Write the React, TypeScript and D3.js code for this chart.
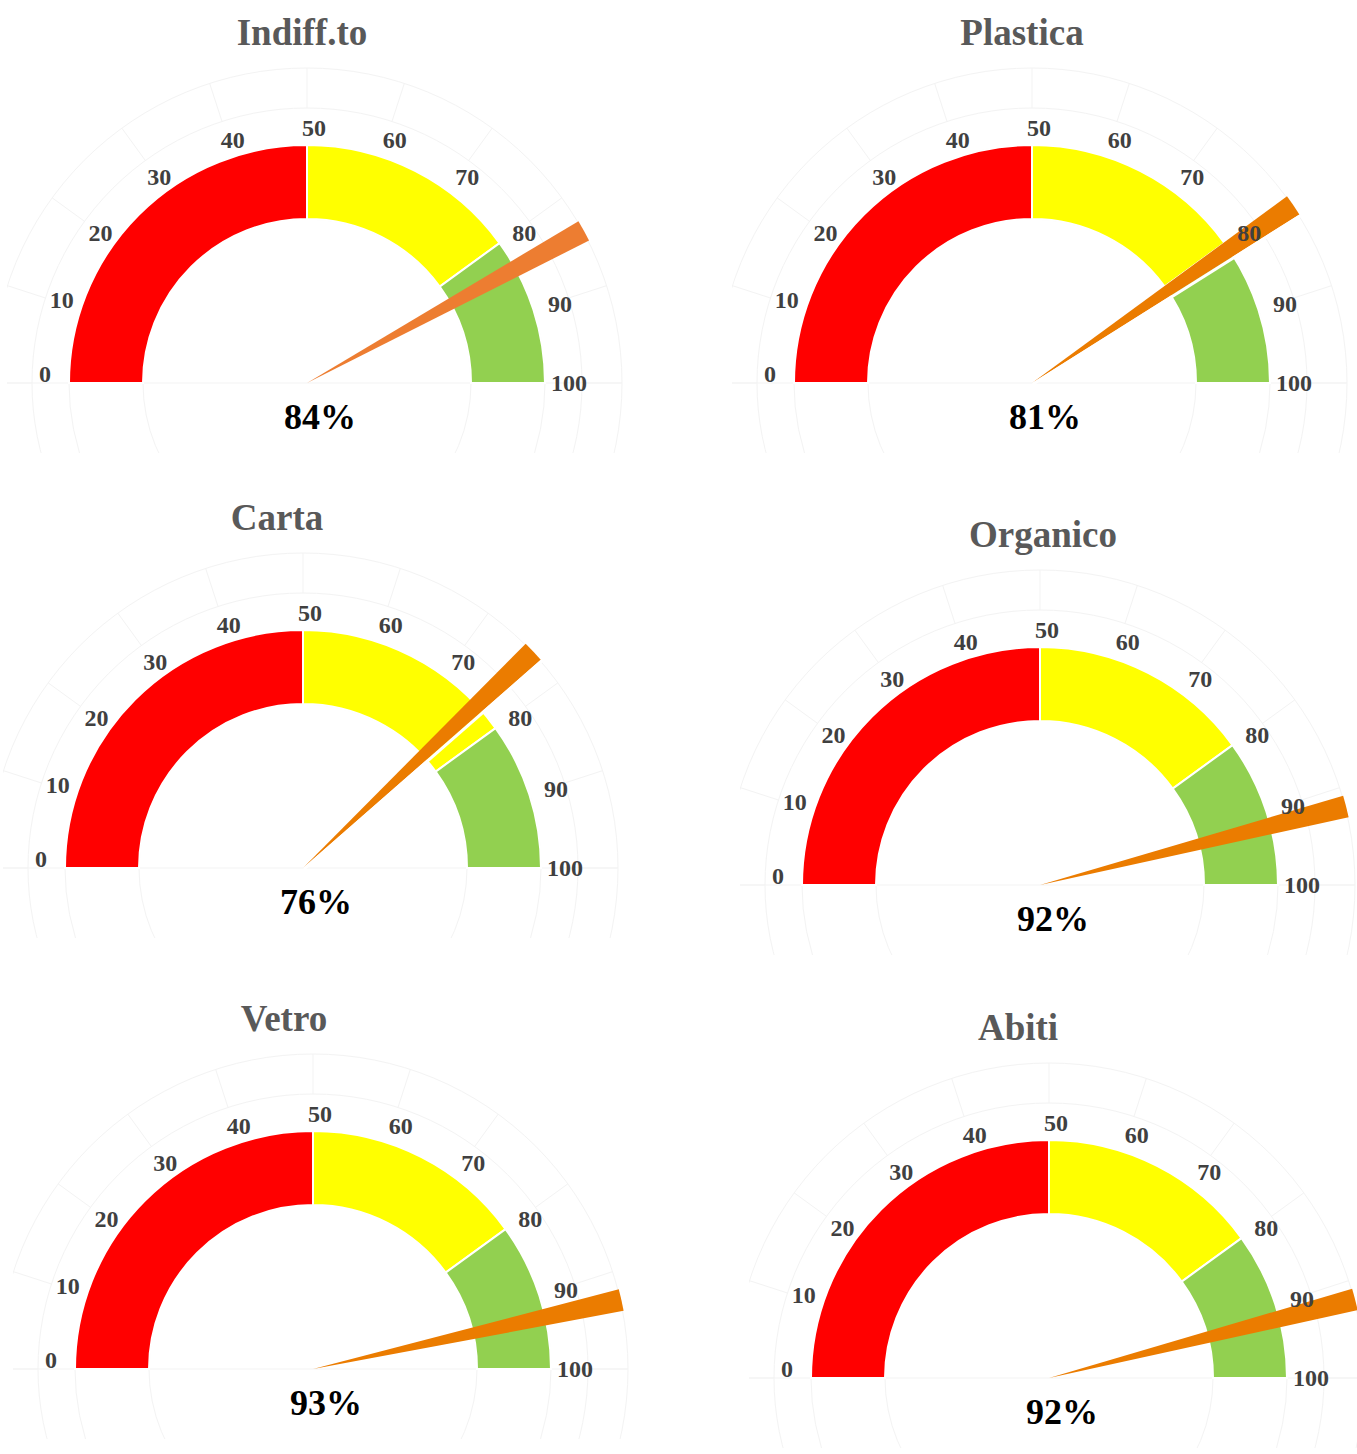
import React from "react";
import * as d3 from "d3";

// Gauge data
const titles = ["Indiff.to", "Plastica", "Carta", "Organico", "Vetro", "Abiti"];
const values = [84, 81, 76, 92, 93, 92];

// Coloured bands (value ranges) and their colours
const bandStarts = [0, 50, 80];
const bandEnds = [50, 80, 100];
const bandColors = ["#FF0000", "#FFFF00", "#92D050"];

// Scale tick labels
const tickValues = [0, 10, 20, 30, 40, 50, 60, 70, 80, 90, 100];

// Panel layout: gauge centre and title horizontal offset
const panelCx = [307, 1032, 303, 1040, 313, 1049];
const panelCy = [383, 383, 868, 885, 1369, 1378];
const titleDx = [-5, -10, -26, 3, -29, -31];

// Needle styling per panel
const needleColors = ["#ED7D31", "#EB7C00", "#EB7C00", "#EB7C00", "#EB7C00", "#EB7C00"];
const needleEdge = [false, true, true, false, false, false];

const W = 1357;
const H = 1454;
const R_IN = 164;
const R_OUT = 238;
const R_RING_IN = 275;
const R_RING_OUT = 315;
const R_NEEDLE = 316;
const NEEDLE_HALF = (2 * Math.PI) / 180;
const FONT = "'Liberation Serif', 'DejaVu Serif', serif";
const GRID = "#f3f3f3";

const angle = d3.scaleLinear().domain([0, 100]).range([-Math.PI / 2, Math.PI / 2]);

function Gauge({ i }: { i: number }) {
  const cx = panelCx[i];
  const cy = panelCy[i];
  const v = values[i];
  const a = angle(v);
  const bandArc = d3.arc<any>().innerRadius(R_IN).outerRadius(R_OUT);
  const needleArc = d3.arc<any>().innerRadius(0).outerRadius(R_NEEDLE);
  const clipId = `clip-${i}`;

  // white edge along the lower side of the needle
  const ea = a + NEEDLE_HALF;
  const nx = Math.cos(ea) * 1.5;
  const ny = Math.sin(ea) * 1.5;
  const ex = R_NEEDLE * Math.sin(ea);
  const ey = -R_NEEDLE * Math.cos(ea);

  return (
    <g>
      <defs>
        <clipPath id={clipId}>
          <rect x={cx - 300} y={cy - 325} width={625} height={395} />
        </clipPath>
      </defs>
      <g clipPath={`url(#${clipId})`}>
        <g transform={`translate(${cx},${cy})`}>
          {/* faint polar frame */}
          {[R_IN, R_OUT, R_RING_IN, R_RING_OUT].map((r) => (
            <circle key={r} r={r} fill="none" stroke={GRID} strokeWidth={1} />
          ))}
          <line x1={-R_RING_OUT} x2={R_RING_OUT} y1={0} y2={0} stroke={GRID} strokeWidth={1} />
          {tickValues.map((t) => {
            const ta = angle(t);
            return (
              <line
                key={t}
                x1={R_RING_IN * Math.sin(ta)}
                y1={-R_RING_IN * Math.cos(ta)}
                x2={R_RING_OUT * Math.sin(ta)}
                y2={-R_RING_OUT * Math.cos(ta)}
                stroke={GRID}
                strokeWidth={1}
              />
            );
          })}
          {/* coloured bands */}
          {bandStarts.map((s, k) => (
            <path
              key={k}
              d={bandArc({ startAngle: angle(s), endAngle: angle(bandEnds[k]) }) as string}
              fill={bandColors[k]}
              stroke="#ffffff"
              strokeWidth={2}
            />
          ))}
          {/* needle */}
          <path
            d={needleArc({ startAngle: a - NEEDLE_HALF, endAngle: a + NEEDLE_HALF }) as string}
            fill={needleColors[i]}
          />
          {needleEdge[i] && (
            <line
              x1={nx}
              y1={ny}
              x2={ex + nx}
              y2={ey + ny}
              stroke="#ffffff"
              strokeWidth={3}
            />
          )}
        </g>
      </g>
      {/* tick labels */}
      {tickValues.map((t) => {
        const ta = angle(t);
        const c = Math.cos(ta);
        const s = Math.sin(ta);
        const x = cx + 262 * s + 7 * Math.sqrt(Math.max(c, 0));
        const flat = Math.pow(Math.abs(s), 16);
        const y = cy - 255 * c - 5 * flat + 4.5 * s * flat;
        return (
          <text
            key={t}
            x={x}
            y={y}
            textAnchor="middle"
            dominantBaseline="central"
            fontFamily={FONT}
            fontWeight="bold"
            fontSize={24}
            fill="#404040"
          >
            {t}
          </text>
        );
      })}
      {/* title */}
      <text
        x={cx + titleDx[i]}
        y={cy - 338}
        textAnchor="middle"
        fontFamily={FONT}
        fontWeight="bold"
        fontSize={37}
        fill="#595959"
      >
        {titles[i]}
      </text>
      {/* value */}
      <text
        x={cx + 13}
        y={cy + 46}
        textAnchor="middle"
        fontFamily={FONT}
        fontWeight="bold"
        fontSize={36}
        fill="#000000"
      >
        {`${v}%`}
      </text>
    </g>
  );
}

export default function App() {
  return (
    <svg
      width={W}
      height={H}
      viewBox={`0 0 ${W} ${H}`}
      style={{ position: "absolute", left: 0, top: 0, background: "#ffffff" }}
    >
      <rect width={W} height={H} fill="#ffffff" />
      {titles.map((_, i) => (
        <Gauge key={i} i={i} />
      ))}
    </svg>
  );
}
